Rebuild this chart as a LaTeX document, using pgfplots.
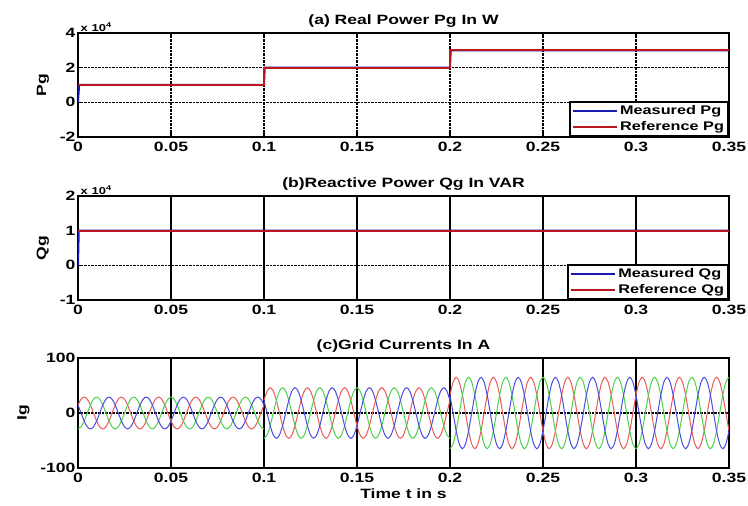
\documentclass[border=0pt]{standalone}
\usepackage{pgfplots}
\usepackage{pgfplotstable}
\usepackage{fontspec}
\setmainfont{Liberation Sans}[FakeStretch=1.3]
\pgfplotsset{compat=1.18}

\definecolor{mblue}{rgb}{0.1,0.1,0.7}
\definecolor{mred}{rgb}{0.72,0.1,0.12}
\definecolor{ired}{rgb}{0.92,0.35,0.35}
\definecolor{igreen}{rgb}{0.3,0.82,0.3}
\definecolor{iblue}{rgb}{0.3,0.3,0.88}

\tikzset{scalelbl/.style={at={(rel axis cs:0,1)}, anchor=south west, inner sep=1.5pt, font=\fontsize{10}{11}\selectfont\bfseries}}

% t  red  green  blue  (grid currents, segment 1: 0--0.1 s)
\pgfplotstableread{
t r g b
0 14.5 -29 14.5
0.00167 25.11 -25.11 0
0.00333 29 -14.5 -14.5
0.005 25.11 0 -25.11
0.00667 14.5 14.5 -29
0.00833 0 25.11 -25.11
0.01 -14.5 29 -14.5
0.01167 -25.11 25.11 0
0.01333 -29 14.5 14.5
0.015 -25.11 0 25.11
0.01667 -14.5 -14.5 29
0.01833 0 -25.11 25.11
0.02 14.5 -29 14.5
0.02167 25.11 -25.11 0
0.02333 29 -14.5 -14.5
0.025 25.11 0 -25.11
0.02667 14.5 14.5 -29
0.02833 0 25.11 -25.11
0.03 -14.5 29 -14.5
0.03167 -25.11 25.11 0
0.03333 -29 14.5 14.5
0.035 -25.11 0 25.11
0.03667 -14.5 -14.5 29
0.03833 0 -25.11 25.11
0.04 14.5 -29 14.5
0.04167 25.11 -25.11 0
0.04333 29 -14.5 -14.5
0.045 25.11 0 -25.11
0.04667 14.5 14.5 -29
0.04833 0 25.11 -25.11
0.05 -14.5 29 -14.5
0.05167 -25.11 25.11 0
0.05333 -29 14.5 14.5
0.055 -25.11 0 25.11
0.05667 -14.5 -14.5 29
0.05833 0 -25.11 25.11
0.06 14.5 -29 14.5
0.06167 25.11 -25.11 0
0.06333 29 -14.5 -14.5
0.065 25.11 0 -25.11
0.06667 14.5 14.5 -29
0.06833 0 25.11 -25.11
0.07 -14.5 29 -14.5
0.07167 -25.11 25.11 0
0.07333 -29 14.5 14.5
0.075 -25.11 0 25.11
0.07667 -14.5 -14.5 29
0.07833 0 -25.11 25.11
0.08 14.5 -29 14.5
0.08167 25.11 -25.11 0
0.08333 29 -14.5 -14.5
0.085 25.11 0 -25.11
0.08667 14.5 14.5 -29
0.08833 0 25.11 -25.11
0.09 -14.5 29 -14.5
0.09167 -25.11 25.11 0
0.09333 -29 14.5 14.5
0.095 -25.11 0 25.11
0.09667 -14.5 -14.5 29
0.09833 0 -25.11 25.11
0.1 14.5 -29 14.5
}\segA

% segment 2: 0.1--0.2 s
\pgfplotstableread{
t r g b
0.1 23 -46 23
0.10167 39.84 -39.84 0
0.10333 46 -23 -23
0.105 39.84 0 -39.84
0.10667 23 23 -46
0.10833 0 39.84 -39.84
0.11 -23 46 -23
0.11167 -39.84 39.84 0
0.11333 -46 23 23
0.115 -39.84 0 39.84
0.11667 -23 -23 46
0.11833 0 -39.84 39.84
0.12 23 -46 23
0.12167 39.84 -39.84 0
0.12333 46 -23 -23
0.125 39.84 0 -39.84
0.12667 23 23 -46
0.12833 0 39.84 -39.84
0.13 -23 46 -23
0.13167 -39.84 39.84 0
0.13333 -46 23 23
0.135 -39.84 0 39.84
0.13667 -23 -23 46
0.13833 0 -39.84 39.84
0.14 23 -46 23
0.14167 39.84 -39.84 0
0.14333 46 -23 -23
0.145 39.84 0 -39.84
0.14667 23 23 -46
0.14833 0 39.84 -39.84
0.15 -23 46 -23
0.15167 -39.84 39.84 0
0.15333 -46 23 23
0.155 -39.84 0 39.84
0.15667 -23 -23 46
0.15833 0 -39.84 39.84
0.16 23 -46 23
0.16167 39.84 -39.84 0
0.16333 46 -23 -23
0.165 39.84 0 -39.84
0.16667 23 23 -46
0.16833 0 39.84 -39.84
0.17 -23 46 -23
0.17167 -39.84 39.84 0
0.17333 -46 23 23
0.175 -39.84 0 39.84
0.17667 -23 -23 46
0.17833 0 -39.84 39.84
0.18 23 -46 23
0.18167 39.84 -39.84 0
0.18333 46 -23 -23
0.185 39.84 0 -39.84
0.18667 23 23 -46
0.18833 0 39.84 -39.84
0.19 -23 46 -23
0.19167 -39.84 39.84 0
0.19333 -46 23 23
0.195 -39.84 0 39.84
0.19667 -23 -23 46
0.19833 0 -39.84 39.84
0.2 23 -46 23
}\segB

% segment 3: 0.2--0.35 s
\pgfplotstableread{
t r g b
0.2 32.5 -65 32.5
0.20167 56.29 -56.29 0
0.20333 65 -32.5 -32.5
0.205 56.29 0 -56.29
0.20667 32.5 32.5 -65
0.20833 0 56.29 -56.29
0.21 -32.5 65 -32.5
0.21167 -56.29 56.29 0
0.21333 -65 32.5 32.5
0.215 -56.29 0 56.29
0.21667 -32.5 -32.5 65
0.21833 0 -56.29 56.29
0.22 32.5 -65 32.5
0.22167 56.29 -56.29 0
0.22333 65 -32.5 -32.5
0.225 56.29 0 -56.29
0.22667 32.5 32.5 -65
0.22833 0 56.29 -56.29
0.23 -32.5 65 -32.5
0.23167 -56.29 56.29 0
0.23333 -65 32.5 32.5
0.235 -56.29 0 56.29
0.23667 -32.5 -32.5 65
0.23833 0 -56.29 56.29
0.24 32.5 -65 32.5
0.24167 56.29 -56.29 0
0.24333 65 -32.5 -32.5
0.245 56.29 0 -56.29
0.24667 32.5 32.5 -65
0.24833 0 56.29 -56.29
0.25 -32.5 65 -32.5
0.25167 -56.29 56.29 0
0.25333 -65 32.5 32.5
0.255 -56.29 0 56.29
0.25667 -32.5 -32.5 65
0.25833 0 -56.29 56.29
0.26 32.5 -65 32.5
0.26167 56.29 -56.29 0
0.26333 65 -32.5 -32.5
0.265 56.29 0 -56.29
0.26667 32.5 32.5 -65
0.26833 0 56.29 -56.29
0.27 -32.5 65 -32.5
0.27167 -56.29 56.29 0
0.27333 -65 32.5 32.5
0.275 -56.29 0 56.29
0.27667 -32.5 -32.5 65
0.27833 0 -56.29 56.29
0.28 32.5 -65 32.5
0.28167 56.29 -56.29 0
0.28333 65 -32.5 -32.5
0.285 56.29 0 -56.29
0.28667 32.5 32.5 -65
0.28833 0 56.29 -56.29
0.29 -32.5 65 -32.5
0.29167 -56.29 56.29 0
0.29333 -65 32.5 32.5
0.295 -56.29 0 56.29
0.29667 -32.5 -32.5 65
0.29833 0 -56.29 56.29
0.3 32.5 -65 32.5
0.30167 56.29 -56.29 0
0.30333 65 -32.5 -32.5
0.305 56.29 0 -56.29
0.30667 32.5 32.5 -65
0.30833 0 56.29 -56.29
0.31 -32.5 65 -32.5
0.31167 -56.29 56.29 0
0.31333 -65 32.5 32.5
0.315 -56.29 0 56.29
0.31667 -32.5 -32.5 65
0.31833 0 -56.29 56.29
0.32 32.5 -65 32.5
0.32167 56.29 -56.29 0
0.32333 65 -32.5 -32.5
0.325 56.29 0 -56.29
0.32667 32.5 32.5 -65
0.32833 0 56.29 -56.29
0.33 -32.5 65 -32.5
0.33167 -56.29 56.29 0
0.33333 -65 32.5 32.5
0.335 -56.29 0 56.29
0.33667 -32.5 -32.5 65
0.33833 0 -56.29 56.29
0.34 32.5 -65 32.5
0.34167 56.29 -56.29 0
0.34333 65 -32.5 -32.5
0.345 56.29 0 -56.29
0.34667 32.5 32.5 -65
0.34833 0 56.29 -56.29
0.35 -32.5 65 -32.5
}\segC

\pgfplotsset{
  mstyle/.style={
    width=651pt, scale only axis,
    xmin=0, xmax=0.35,
    xtick={0,0.05,0.1,0.15,0.2,0.25,0.3,0.35},
    xticklabels={0,0.05,0.1,0.15,0.2,0.25,0.3,0.35},
    /pgf/number format/assume math mode=true,
    font=\fontsize{13}{15}\selectfont\bfseries,
    tick label style={font=\fontsize{13.5}{15}\selectfont\bfseries},
    axis line style={line width=2.3pt, black},
    tick style={line width=1.4pt, black},
    major tick length=4pt,
    grid=major,
    grid style={densely dotted, line width=1.6pt, black},
    title style={font=\fontsize{13.5}{15}\selectfont\bfseries, yshift=-4pt},
    ylabel style={font=\fontsize{13.5}{15}\selectfont\bfseries, yshift=4pt},
    xticklabel style={yshift=-2pt},
    yticklabel style={xshift=1pt},
    legend cell align=left,
    legend image code/.code={\draw[#1, line width=2pt] (0pt,0pt) -- (44pt,0pt);},
    legend style={at={(1,0)}, anchor=south east, draw=black, line width=2pt,
      font=\fontsize{12.5}{14}\selectfont\bfseries, inner sep=2pt, row sep=1pt,
      /tikz/every even column/.append style={column sep=0pt}},
  }
}

\begin{document}
\begin{tikzpicture}
\path[use as bounding box] (0pt,0pt) rectangle (748pt,-506pt);

% (a) Real power
\begin{axis}[mstyle,
  at={(78pt,-33pt)}, anchor=north west, height=104pt,
  ymin=-20000, ymax=40000, ytick={-20000,0,20000,40000},
  scaled y ticks=base 10:-4,
  ytick scale label code/.code={x 10\textsuperscript{4}},
  every y tick scale label/.style={scalelbl},
  title={(a) Real Power Pg In W},
  ylabel={Pg},
]
\addplot[mblue, line width=2pt] coordinates {(0,0) (0.0006,10000) (0.1,10000) (0.1004,20000) (0.2,20000) (0.2004,30000) (0.35,30000)};
\addplot[mred, line width=2pt] coordinates {(0,10000) (0.1,10000) (0.1,20000) (0.2,20000) (0.2,30000) (0.35,30000)};
\legend{Measured Pg, Reference Pg}
\end{axis}

% (b) Reactive power
\begin{axis}[mstyle,
  at={(78pt,-196pt)}, anchor=north west, height=104pt,
  ymin=-10000, ymax=20000, ytick={-10000,0,10000,20000},
  scaled y ticks=base 10:-4,
  ytick scale label code/.code={x 10\textsuperscript{4}},
  every y tick scale label/.style={scalelbl},
  x grid style={solid, line width=1.6pt, black},
  title={(b)Reactive Power Qg In VAR},
  ylabel={Qg},
]
\addplot[mblue, line width=2pt] coordinates {(0,0) (0.0004,10000) (0.35,10000)};
\addplot[mred, line width=2pt] coordinates {(0,10000) (0.35,10000)};
\legend{Measured Qg, Reference Qg}
\end{axis}

% (c) Grid currents
\begin{axis}[mstyle,
  at={(78pt,-358pt)}, anchor=north west, height=110pt,
  ymin=-100, ymax=100, ytick={-100,0,100},
  x grid style={solid, line width=1.6pt, black},
  title={(c)Grid Currents In A},
  ylabel={Ig},
  xlabel={Time t in s},
  xlabel style={yshift=1pt, font=\fontsize{13.5}{15}\selectfont\bfseries},
]
\addplot[ired, line width=1pt, smooth] table[x=t, y=r] {\segA};
\addplot[igreen, line width=1pt, smooth] table[x=t, y=g] {\segA};
\addplot[iblue, line width=1pt, smooth] table[x=t, y=b] {\segA};
\addplot[ired, line width=1pt, smooth] table[x=t, y=r] {\segB};
\addplot[igreen, line width=1pt, smooth] table[x=t, y=g] {\segB};
\addplot[iblue, line width=1pt, smooth] table[x=t, y=b] {\segB};
\addplot[ired, line width=1pt, smooth] table[x=t, y=r] {\segC};
\addplot[igreen, line width=1pt, smooth] table[x=t, y=g] {\segC};
\addplot[iblue, line width=1pt, smooth] table[x=t, y=b] {\segC};
\end{axis}
\end{tikzpicture}
\end{document}
